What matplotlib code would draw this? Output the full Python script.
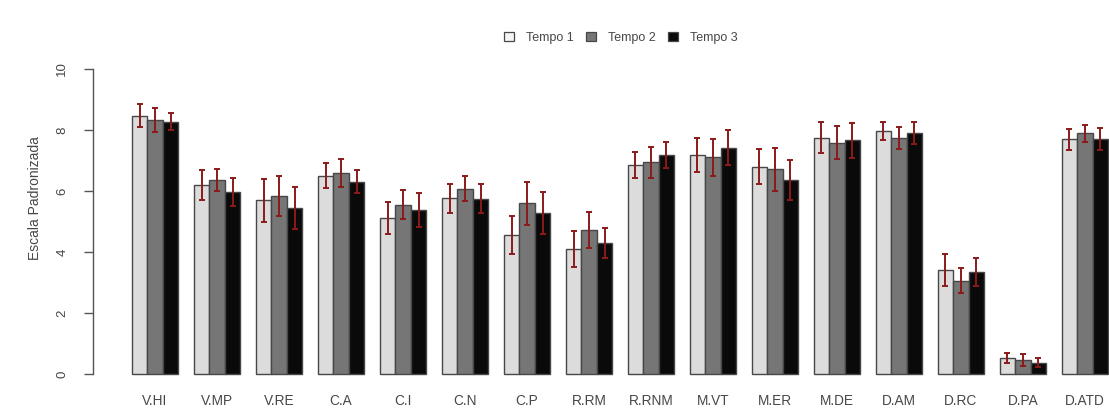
import matplotlib
matplotlib.use("Agg")
import matplotlib.pyplot as plt
from matplotlib.patches import Patch
import numpy as np

plt.rcParams['font.family'] = ['Liberation Sans', 'DejaVu Sans']

categories = ["V.HI", "V.MP", "V.RE", "C.A", "C.I", "C.N", "C.P", "R.RM",
              "R.RNM", "M.VT", "M.ER", "M.DE", "D.AM", "D.RC", "D.PA", "D.ATD"]
series_names = ["Tempo 1", "Tempo 2", "Tempo 3"]

tempo1 = [8.47, 6.20, 5.70, 6.50, 5.11, 5.76, 4.56, 4.09,
          6.85, 7.17, 6.80, 7.75, 7.96, 3.41, 0.53, 7.69]
tempo2 = [8.33, 6.36, 5.84, 6.59, 5.55, 6.08, 5.60, 4.72,
          6.94, 7.10, 6.71, 7.59, 7.74, 3.06, 0.46, 7.89]
tempo3 = [8.27, 5.97, 5.44, 6.31, 5.38, 5.75, 5.29, 4.30,
          7.19, 7.42, 6.36, 7.66, 7.89, 3.33, 0.37, 7.70]

err1 = [0.37, 0.49, 0.70, 0.41, 0.52, 0.47, 0.63, 0.59,
        0.43, 0.56, 0.58, 0.50, 0.29, 0.52, 0.17, 0.33]
err2 = [0.38, 0.36, 0.65, 0.45, 0.48, 0.41, 0.70, 0.59,
        0.50, 0.62, 0.70, 0.55, 0.37, 0.40, 0.20, 0.28]
err3 = [0.28, 0.45, 0.68, 0.38, 0.56, 0.48, 0.69, 0.50,
        0.43, 0.57, 0.65, 0.57, 0.36, 0.46, 0.15, 0.36]

yticks = [0, 2, 4, 6, 8, 10]

series = [tempo1, tempo2, tempo3]
errors = [err1, err2, err3]
colors = ["#dcdcdc", "#767676", "#0a0a0a"]
edge = "#474747"
err_color = "#8b1a1a"
text_color = "#474747"

W, H = 1109, 411
fig = plt.figure(figsize=(W / 100, H / 100), dpi=100)
# axes extends beyond right edge (reference image is cropped)
ax = fig.add_axes([92.7 / W, 24.8 / H, 1054.6 / W, 329.4 / H])

n = len(categories)
group_start = np.arange(n) * 4 + 1  # R barplot: space=c(0,1)
for k, (vals, errs, col) in enumerate(zip(series, errors, colors)):
    x = group_start + k + 0.5
    ax.bar(x, vals, width=1.0, color=col, edgecolor=edge, linewidth=1.0, zorder=2)
    ax.errorbar(x, vals, yerr=errs, fmt='none', ecolor=err_color,
                elinewidth=1.4, capsize=2.2, capthick=1.4, zorder=3)

ax.set_xlim(-1.52, 66.52)
ax.set_ylim(-0.4, 10.4)

ax.set_xticks(group_start + 1.5)
ax.set_xticklabels(categories, fontsize=9.8, color=text_color)
ax.tick_params(axis='x', length=0, pad=5.5)

ax.set_yticks(yticks)
ax.set_yticklabels([str(t) for t in yticks], rotation=90, va='center',
                   fontsize=9.5, color=text_color)
ax.tick_params(axis='y', length=6.5, width=1.0, color="#555555", pad=11)

for s in ['top', 'right', 'bottom']:
    ax.spines[s].set_visible(False)
ax.spines['left'].set_bounds(0, 10)
ax.spines['left'].set_color("#555555")
ax.spines['left'].set_linewidth(1.0)

fig.text(35 / W, 1 - 198 / H, "Escala Padronizada", rotation=90,
         ha='center', va='center', fontsize=10, color=text_color)

handles = [Patch(facecolor=c, edgecolor=edge, linewidth=0.9) for c in colors]
handles[0] = Patch(facecolor="#f4f4f4", edgecolor=edge, linewidth=0.9)
fig.legend(handles, series_names, loc='center', bbox_to_anchor=(621 / W, 1 - 38 / H),
           ncol=3, frameon=False, fontsize=9, handlelength=0.75, handleheight=0.75,
           handletextpad=1.0, columnspacing=1.0, labelcolor=text_color)

fig.savefig("out.png", dpi=100, facecolor="white")
